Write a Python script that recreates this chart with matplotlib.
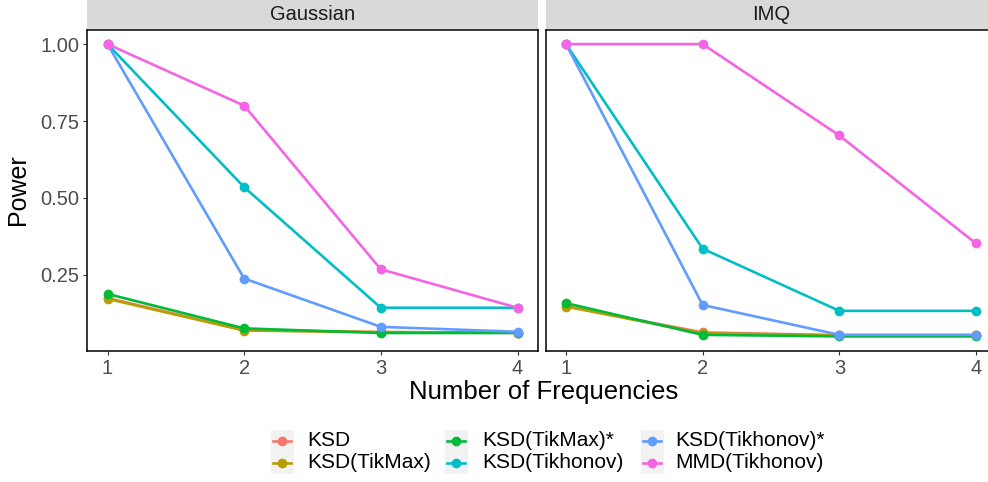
"""Power vs number of frequencies, Gaussian and IMQ kernels (ggplot-style facets)."""

import matplotlib
matplotlib.use("Agg")
import matplotlib.pyplot as plt
from matplotlib.patches import Rectangle

plt.rcParams.update({
    "font.family": ["Liberation Sans", "DejaVu Sans"],
    "figure.dpi": 100,
})

W, H = 988, 482

freqs = [1, 2, 3, 4]
panels = ["Gaussian", "IMQ"]
methods = ["KSD", "KSD(TikMax)", "KSD(TikMax)*", "KSD(Tikhonov)",
           "KSD(Tikhonov)*", "MMD(Tikhonov)"]
colors = ["#F8766D", "#B79F00", "#00BA38", "#00BFC4", "#619CFF", "#F564E3"]

power_gaussian = {
    "KSD":            [0.175, 0.070, 0.064, 0.062],
    "KSD(TikMax)":    [0.172, 0.069, 0.064, 0.062],
    "KSD(TikMax)*":   [0.188, 0.076, 0.061, 0.061],
    "KSD(Tikhonov)":  [1.000, 0.535, 0.143, 0.143],
    "KSD(Tikhonov)*": [1.000, 0.238, 0.081, 0.065],
    "MMD(Tikhonov)":  [1.000, 0.800, 0.268, 0.143],
}
power_imq = {
    "KSD":            [0.148, 0.063, 0.054, 0.054],
    "KSD(TikMax)":    [0.147, 0.060, 0.053, 0.053],
    "KSD(TikMax)*":   [0.158, 0.055, 0.050, 0.050],
    "KSD(Tikhonov)":  [1.000, 0.335, 0.133, 0.133],
    "KSD(Tikhonov)*": [1.000, 0.152, 0.055, 0.055],
    "MMD(Tikhonov)":  [1.000, 1.000, 0.703, 0.352],
}
yticks = [0.25, 0.50, 0.75, 1.00]


def px_rect(x0, y0, x1, y1):
    """pixel box (top-left origin) -> figure fraction rect"""
    return [x0 / W, (H - y1) / H, (x1 - x0) / W, (y1 - y0) / H]


fig = plt.figure(figsize=(W / 100, H / 100), dpi=100)

panel_x = [(87, 538), (545.5, 996.5)]
for i, (name, data) in enumerate(zip(panels, [power_gaussian, power_imq])):
    x0, x1 = panel_x[i]
    ax = fig.add_axes(px_rect(x0, 29.5, x1, 351))
    for m, c in zip(methods, colors):
        ax.plot(freqs, data[m], color=c, lw=1.9, marker="o", ms=6,
                solid_capstyle="butt", clip_on=False, zorder=3)
    ax.set_xlim(0.85, 4.15)
    ax.set_ylim(0.0025, 1.0475)
    ax.set_xticks(freqs)
    ax.set_xticklabels([str(f) for f in freqs])
    ax.set_yticks(yticks)
    if i == 0:
        ax.set_yticklabels([f"{v:.2f}" for v in yticks])
        ax.tick_params(axis="y", length=3.2, width=0.8, color="#333333",
                       labelsize=14.5, labelcolor="#4D4D4D", pad=2.5)
    else:
        ax.tick_params(axis="y", left=False, labelleft=False)
    ax.tick_params(axis="x", length=3.2, width=0.8, color="#333333",
                   labelsize=14.5, labelcolor="#4D4D4D", pad=2.5)
    for s in ax.spines.values():
        s.set_linewidth(1.1)
        s.set_color("black")

    # facet strip
    sax = fig.add_axes(px_rect(x0, 0, x1, 28.5))
    sax.set_facecolor("#D9D9D9")
    sax.set_xticks([])
    sax.set_yticks([])
    for s in sax.spines.values():
        s.set_visible(False)
    sax.text(0.5, 0.5, name, ha="center", va="center", fontsize=14.5,
             color="#1A1A1A", transform=sax.transAxes)

fig.text(544 / W, 1 - 392 / H, "Number of Frequencies", ha="center",
         va="center", fontsize=18.5)
fig.text(18 / W, 1 - 190 / H, "Power", ha="center", va="center",
         rotation=90, fontsize=18)

# legend drawn in pixel space
lax = fig.add_axes([0, 0, 1, 1])
lax.set_xlim(0, W)
lax.set_ylim(H, 0)
lax.axis("off")
key_cx = [282, 456, 652]
text_x = [307, 482, 675]
row_cy = [441, 463]
for k, (m, c) in enumerate(zip(methods, colors)):
    col, row = divmod(k, 2)
    cx, cy = key_cx[col], row_cy[row]
    lax.add_patch(Rectangle((cx - 11.5, cy - 11), 23, 22, color="#F2F2F2", lw=0))
    lax.plot([cx - 9, cx + 9], [cy, cy], color=c, lw=1.9)
    lax.plot([cx], [cy], "o", color=c, ms=6)
    lax.text(text_x[col], cy, m, ha="left", va="center", fontsize=15)

fig.savefig("out.png", dpi=100)
